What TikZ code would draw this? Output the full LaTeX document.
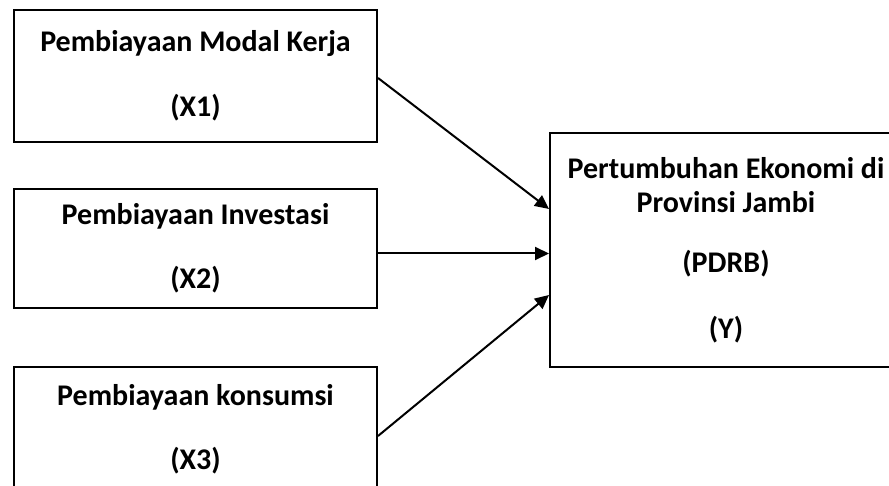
\documentclass[tikz,border=0pt]{standalone}
\usepackage{fontspec}
\setmainfont{Carlito}
\usetikzlibrary{positioning,arrows.meta}

\begin{document}
\begin{tikzpicture}[
  font=\bfseries\fontsize{30}{36}\selectfont,
  box/.style={draw, line width=2pt, align=center, minimum width=363pt, inner sep=0pt},
  arr/.style={-{Triangle[length=14pt,width=13pt]}, line width=2pt}
]
\useasboundingbox (0,0) rectangle (889pt,-486pt);
\node[box, minimum height=132pt, anchor=north west] (x1) at (13pt,-9pt) {Pembiayaan Modal Kerja\\[29pt](X1)};
\node[box, minimum height=119pt, below=45pt of x1] (x2) {Pembiayaan Investasi\\[28pt](X2)};
\node[box, minimum height=124pt, below=57pt of x2] (x3) {Pembiayaan konsumsi\\[28pt](X3)};
\node[box, minimum width=352pt, minimum height=234pt, right=171pt of x2, yshift=-1.5pt] (y) {Pertumbuhan Ekonomi di\\[-2pt]Provinsi Jambi\\[24pt](PDRB)\\[30pt](Y)};
\draw[arr] ([yshift=-2pt]x1.east) -- ([yshift=41pt]y.west);
\draw[arr] ([yshift=-5pt]x2.east) -- ([yshift=-5pt]x2.east -| y.west);
\draw[arr] ([yshift=-7pt]x3.east) -- ([yshift=-45pt]y.west);
\end{tikzpicture}
\end{document}
